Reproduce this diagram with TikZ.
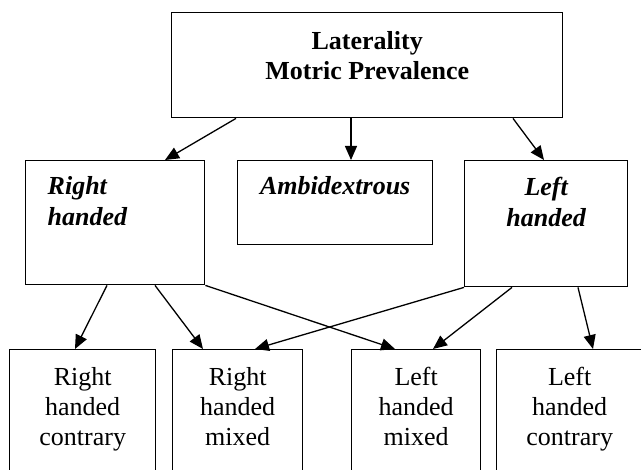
\documentclass[tikz,border=0pt]{standalone}
\usepackage{fontspec}
\setmainfont{Liberation Serif}
\usetikzlibrary{arrows.meta,calc}
\tikzset{
  bx/.style={draw, line width=1.4pt, inner sep=0pt, anchor=north west, fill=white},
  conn/.style={line width=1.3pt, -{Triangle[length=14pt,width=12pt]}},
  plainline/.style={line width=1.3pt}
}
\newcommand\cbox[4]{\parbox[t][#2][t]{#1}{\centering\rule{0pt}{#3}#4}}
\newcommand\lbox[4]{\parbox[t][#2][t]{#1}{\raggedright\leftskip=22pt\rule{0pt}{#3}#4}}
\begin{document}
\begin{tikzpicture}[x=1pt,y=-1pt]
\clip (0,0) rectangle (641,470);
\fill[white] (0,0) rectangle (641,470);
% top
\node[bx, font=\fontsize{26}{30}\selectfont\bfseries] (top) at (171,12)
  {\cbox{391pt}{105pt}{37pt}{Laterality\\Motric Prevalence}};
% middle row
\node[bx, font=\fontsize{26}{31}\selectfont\bfseries\itshape] (rh) at (25,160)
  {\lbox{179pt}{124pt}{34pt}{Right\\handed}};
\node[bx, font=\fontsize{26}{31}\selectfont\bfseries\itshape] (amb) at (237,160)
  {\cbox{195pt}{84pt}{34pt}{Ambidextrous}};
\node[bx, font=\fontsize{26}{31}\selectfont\bfseries\itshape] (lh) at (464,160)
  {\cbox{163pt}{126pt}{35pt}{Left\\handed}};
% bottom row
\node[bx, font=\fontsize{26}{30}\selectfont] (b1) at (9,349)
  {\cbox{146pt}{131pt}{36pt}{Right\\handed\\contrary}};
\node[bx, font=\fontsize{26}{30}\selectfont] (b2) at (172,349)
  {\cbox{130pt}{131pt}{36pt}{Right\\handed\\mixed}};
\node[bx, font=\fontsize{26}{30}\selectfont] (b3) at (351,349)
  {\cbox{129pt}{131pt}{36pt}{Left\\handed\\mixed}};
\node[bx, font=\fontsize{26}{30}\selectfont] (b4) at (496,349)
  {\cbox{146pt}{131pt}{36pt}{Left\\handed\\contrary}};
% connectors
\draw[conn] ($(top.south west)+(65,0)$) -- ($(rh.north west)+(140,0)$);
\draw[conn] ($(top.south west)+(180,0)$) -- ($(amb.north west)+(114,0)$);
\draw[conn] ($(top.south west)+(342,0)$) -- ($(lh.north west)+(80,0)$);
\draw[conn] ($(rh.south west)+(82,0)$) -- ($(b1.north west)+(66,0)$);
\draw[conn] ($(rh.south west)+(130,0)$) -- ($(b2.north west)+(31,0)$);
\draw[conn] (rh.south east) -- ($(b3.north west)+(44,0)$);
\draw[conn] (lh.south west) -- ($(b2.north west)+(83,0)$);
\draw[conn] ($(lh.south west)+(48,0)$) -- ($(b3.north west)+(82,0)$);
\draw[conn] ($(lh.south west)+(114,0)$) -- ($(b4.north west)+(97,0)$);
\end{tikzpicture}
\end{document}
